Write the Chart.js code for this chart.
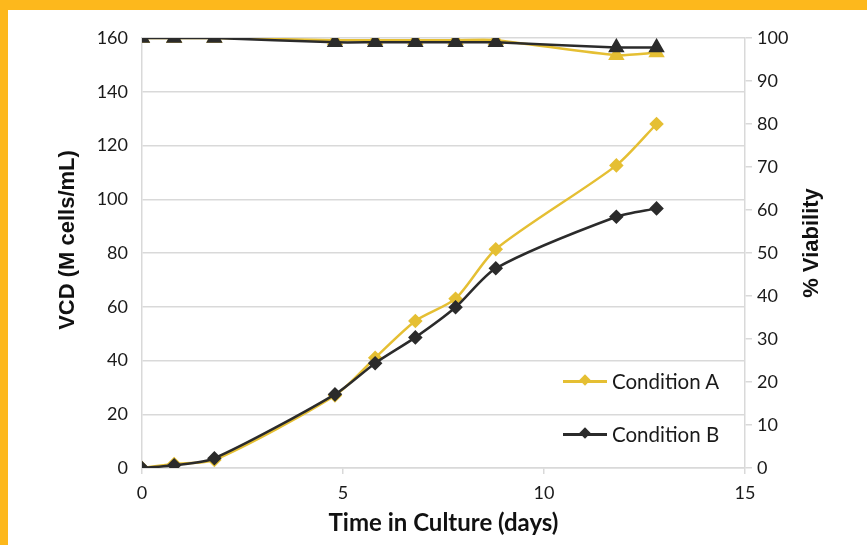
<!DOCTYPE html>
<html>
<head>
<meta charset="utf-8">
<script src="https://cdn.jsdelivr.net/npm/chart.js@4/dist/chart.umd.min.js"></script>
<style>
  html, body { margin: 0; padding: 0; background: #fff; }
  #frame { position: absolute; left: 0; top: 0; width: 859px; height: 535px;
           border-top: 10px solid #FDB81C; border-left: 8px solid #FDB81C; background: #fff; }
  #wrap { position: relative; width: 859px; height: 535px; }
  .leg { position: absolute; font-family: Lato, sans-serif; font-size: 20.5px; color: #1a1a1a;
         display: flex; align-items: center; white-space: nowrap; height: 24px; }
  .leg .ln { position: relative; width: 44px; height: 3px; margin-right: 5px; }
  .leg .dm { position: absolute; left: 18px; top: -4px; width: 8px; height: 8px; transform: rotate(45deg); }
</style>
</head>
<body>
<div id="frame"><div id="wrap"><canvas id="c"></canvas>
  <div class="leg" id="legA" style="left:555px; top:359px;"><span class="ln" style="background:#E5BF33"><span class="dm" style="background:#E5BF33"></span></span>Condition A</div>
  <div class="leg" id="legB" style="left:555px; top:412px;"><span class="ln" style="background:#2B2B2B"><span class="dm" style="background:#2B2B2B"></span></span>Condition B</div>
</div></div>
<script>
const days = [0, 0.8, 1.8, 4.8, 5.8, 6.8, 7.8, 8.8, 11.8, 12.8];
const vcdA = [0, 1.5, 3, 27, 41, 54.7, 63, 81.4, 112.6, 128];
const vcdB = [0, 1, 3.6, 27.4, 39, 48.6, 59.8, 74.3, 93.5, 96.6];
const viaA = [100, 100, 100, 99.5, 99.5, 99.5, 99.5, 99.5, 96, 96.6];
const viaB = [100, 100, 100, 99, 99, 99, 99, 99, 97.8, 97.8];
const seriesNames = ["Condition A", "Condition B"];
const xTitle = "Time in Culture (days)";
const yTitle = "VCD (M cells/mL)";
const y2Title = "% Viability";

const yellow = "#E5BF33";
const black = "#2B2B2B";
const gridCol = "#D9D9D9";
const tickFont = { family: "Lato", size: 18 };
const titleFont = { family: "Lato", size: 24, weight: "bold" };

const pts = (ys) => days.map((d, i) => ({ x: d, y: ys[i] }));

const sideTitles = {
  id: "sideTitles",
  afterDraw(chart) {
    const ctx = chart.ctx;
    const draw = (txt, x, y) => {
      ctx.save();
      ctx.translate(x, y);
      ctx.rotate(-Math.PI / 2);
      ctx.font = "bold 22px 'Liberation Sans'";
      ctx.fillStyle = "#111";
      ctx.textAlign = "center";
      ctx.textBaseline = "middle";
      ctx.fillText(txt, 0, 0);
      ctx.restore();
    };
    draw(yTitle, 60, 230);
    draw(y2Title, 804, 233);
  }
};

new Chart(document.getElementById("c"), {
  type: "line",
  data: {
    datasets: [
      { label: seriesNames[1], data: pts(vcdB), yAxisID: "y", borderColor: black, backgroundColor: black,
        pointStyle: "rectRot", pointRadius: 5.5, borderWidth: 2.5, tension: 0.25, order: 0 },
      { label: seriesNames[1] + " viability", data: pts(viaB), yAxisID: "y2", borderColor: black, backgroundColor: black,
        pointStyle: "triangle", pointRadius: 7, borderWidth: 2.5, tension: 0.2, order: 0 },
      { label: seriesNames[0], data: pts(vcdA), yAxisID: "y", borderColor: yellow, backgroundColor: yellow,
        pointStyle: "rectRot", pointRadius: 5.5, borderWidth: 2.5, tension: 0.25, order: 1 },
      { label: seriesNames[0] + " viability", data: pts(viaA), yAxisID: "y2", borderColor: yellow, backgroundColor: yellow,
        pointStyle: "triangle", pointRadius: 7, borderWidth: 2.5, tension: 0.2, order: 1 }
    ]
  },
  options: {
    responsive: true,
    maintainAspectRatio: false,
    animation: false,
    layout: { padding: { top: 28, left: 0, right: 0, bottom: 0 } },
    plugins: { legend: { display: false }, tooltip: { enabled: false } },
    scales: {
      x: {
        type: "linear", min: 0, max: 15,
        ticks: { stepSize: 5, font: tickFont, color: "#1a1a1a", padding: 8 },
        grid: { drawOnChartArea: false, drawTicks: true, tickLength: 6, color: gridCol, lineWidth: 1.5 },
        border: { display: true, color: gridCol, width: 1.5 },
        title: { display: true, text: xTitle, font: titleFont, color: "#111", padding: { top: 0, bottom: 7 } },
        afterFit(s) { s.height = 77; }
      },
      y: {
        position: "left", min: 0, max: 160,
        ticks: { stepSize: 20, font: tickFont, color: "#1a1a1a", padding: 14 },
        grid: { drawOnChartArea: true, drawTicks: false, color: gridCol, lineWidth: 1.5 },
        border: { display: true, color: gridCol, width: 1.5 },
        afterFit(s) { s.width = 134; }
      },
      y2: {
        position: "right", min: 0, max: 100,
        ticks: { stepSize: 10, font: tickFont, color: "#1a1a1a", padding: 5 },
        grid: { drawOnChartArea: false, drawTicks: true, tickLength: 7, color: gridCol, lineWidth: 1.5 },
        border: { display: true, color: gridCol, width: 1.5 },
        afterFit(s) { s.width = 122; }
      }
    }
  },
  plugins: [sideTitles]
});
</script>
</body>
</html>
